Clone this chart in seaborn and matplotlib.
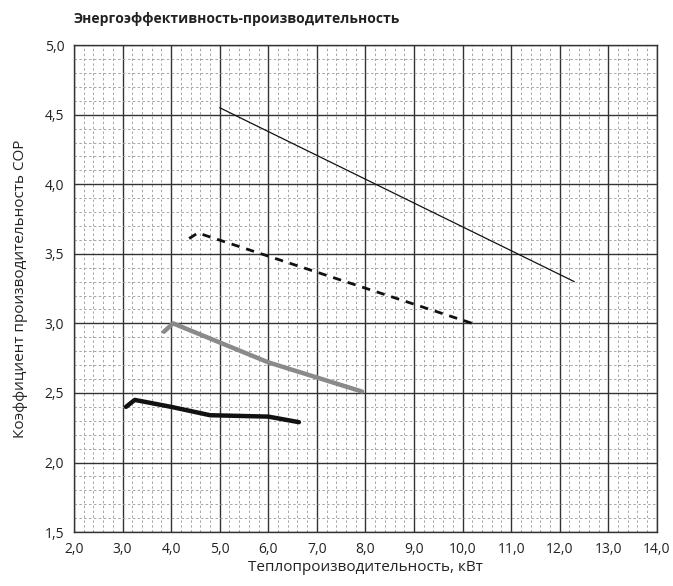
import numpy as np
import pandas as pd
import matplotlib
matplotlib.use("Agg")
import matplotlib.pyplot as plt
import seaborn as sns

# Curves
thin_x = [5.0, 12.3]
thin_y = [4.55, 3.30]

dash_x = [4.37, 4.55, 10.2]
dash_y = [3.61, 3.65, 3.00]

grey_x = [3.85, 4.04, 6.0, 7.93]
grey_y = [2.94, 3.00, 2.72, 2.51]

black_x = [3.07, 3.25, 4.0, 4.8, 6.0, 6.63]
black_y = [2.40, 2.45, 2.40, 2.34, 2.33, 2.29]

x_ticks = [2.0, 3.0, 4.0, 5.0, 6.0, 7.0, 8.0, 9.0, 10.0, 11.0, 12.0, 13.0, 14.0]
y_ticks = [1.5, 2.0, 2.5, 3.0, 3.5, 4.0, 4.5, 5.0]

sns.set_style("white")
plt.rcParams["font.family"] = ["Open Sans", "DejaVu Sans"]

fig = plt.figure(figsize=(6.73, 5.86), dpi=100)
ax = fig.add_axes([0.110, 0.092, 0.866, 0.831])

# grid: minor dashed every 0.2 / 0.1, major solid
ax.set_xticks(np.arange(2.0, 14.01, 0.2), minor=True)
ax.set_yticks(np.arange(1.5, 5.001, 0.1), minor=True)
ax.grid(which="minor", color="#a5a5a5", linestyle=(0, (2.5, 2.5)), linewidth=0.7)
ax.grid(which="major", color="#333333", linestyle="-", linewidth=1.0)
ax.set_axisbelow(True)

sns.lineplot(x=thin_x, y=thin_y, ax=ax, color="#111111", linewidth=0.9)
sns.lineplot(x=dash_x, y=dash_y, ax=ax, color="#111111", linewidth=2.0,
             linestyle=(0, (3, 2.5)))
sns.lineplot(x=grey_x, y=grey_y, ax=ax, color="#8a8a8a", linewidth=3.2)
sns.lineplot(x=black_x, y=black_y, ax=ax, color="#111111", linewidth=3.2)

ax.set_xlim(2.0, 14.0)
ax.set_ylim(1.5, 5.0)
ax.set_xticks(x_ticks)
ax.set_yticks(y_ticks)
ax.set_xticklabels([f"{v:.1f}".replace(".", ",") for v in x_ticks])
ax.set_yticklabels([f"{v:.1f}".replace(".", ",") for v in y_ticks])
ax.tick_params(which="both", length=0, labelsize=10, colors="#222222", pad=7)

for s in ax.spines.values():
    s.set_color("#333333")
    s.set_linewidth(1.0)

ax.set_xlabel("Теплопроизводительность, кВт", fontsize=11, color="#222222", labelpad=2)
ax.set_ylabel("Коэффициент производительность COP", fontsize=11, color="#222222", labelpad=12)
fig.text(0.110, 0.967, "Энергоэффективность-производительность", fontsize=10,
         fontweight="bold", color="#222222", ha="left", va="center")

fig.savefig("out.png", dpi=100)
